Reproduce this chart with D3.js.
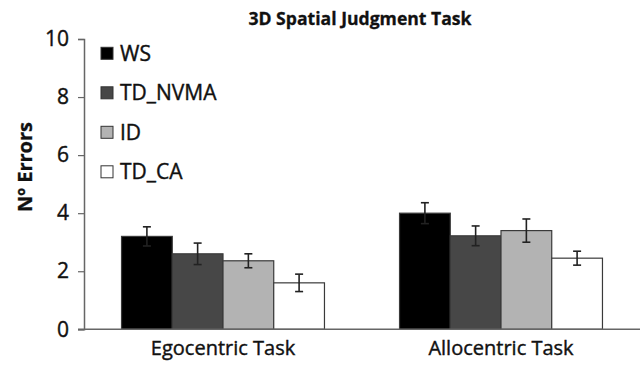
<!DOCTYPE html>
<html>
<head>
<meta charset="utf-8">
<script src="https://cdn.jsdelivr.net/npm/d3@7"></script>
<style>
  html, body { margin: 0; padding: 0; background: #fff; }
  svg { display: block; font-family: "Open Sans", Lato, sans-serif; }
</style>
</head>
<body>
<svg id="chart" width="640" height="366"></svg>
<script>
// Task conditions on the x axis
const tasks = ["Egocentric Task", "Allocentric Task"];
// Participant groups (legend order)
const groups = ["WS", "TD_NVMA", "ID", "TD_CA"];
const groupColors = ["#000000", "#474747", "#b3b3b3", "#ffffff"];
// Mean number of errors per group, one entry per task
const meanWS      = [3.2, 4.0];
const meanTDNVMA  = [2.6, 3.22];
const meanID      = [2.36, 3.4];
const meanTDCA    = [1.6, 2.45];
// Standard errors
const seWS        = [0.33, 0.36];
const seTDNVMA    = [0.37, 0.34];
const seID        = [0.24, 0.4];
const seTDCA      = [0.3, 0.24];
const yTicks = [0, 2, 4, 6, 8, 10];

const means = [meanWS, meanTDNVMA, meanID, meanTDCA];
const ses = [seWS, seTDNVMA, seID, seTDCA];

const fontFamily = "'Open Sans', Lato, sans-serif";
const svg = d3.select("#chart");
const plotLeft = 84, plotRight = 640, plotTop = 39, plotBottom = 329.3;

const x = d3.scaleBand().domain(tasks).range([plotLeft, plotRight])
  .paddingInner(0.27).paddingOuter(0.135);
const xg = d3.scaleBand().domain(groups).range([0, x.bandwidth()]).padding(0);
const y = d3.scaleLinear().domain([0, 10]).range([plotBottom, plotTop]);

// slightly heavier text rendering
function heavy(sel, w) {
  sel.attr("fill", "#111").attr("stroke", "#111").attr("stroke-width", w);
}

// Title
svg.append("text")
  .attr("x", 360).attr("y", 25)
  .attr("text-anchor", "middle")
  .attr("font-weight", "bold")
  .attr("font-size", 17.6)
  .call(heavy, 0.3)
  .text("3D Spatial Judgment Task");

// Bars
const data = [];
tasks.forEach((t, ti) => groups.forEach((g, gi) => {
  data.push({ task: t, group: g, gi, mean: means[gi][ti], se: ses[gi][ti] });
}));

const gBars = svg.append("g");
gBars.selectAll("rect").data(data).join("rect")
  .attr("x", d => x(d.task) + xg(d.group))
  .attr("y", d => y(d.mean))
  .attr("width", xg.bandwidth())
  .attr("height", d => y(0) - y(d.mean))
  .attr("fill", d => groupColors[d.gi])
  .attr("stroke", "#3a3a3a")
  .attr("stroke-width", 1.2);

// Error bars
const gErr = svg.append("g").attr("stroke", "#222").attr("stroke-width", 1.6);
data.forEach(d => {
  const cx = x(d.task) + xg(d.group) + xg.bandwidth() / 2;
  const y1 = y(d.mean + d.se), y0 = y(d.mean - d.se);
  gErr.append("line").attr("x1", cx).attr("x2", cx).attr("y1", y1).attr("y2", y0);
  gErr.append("line").attr("x1", cx - 4).attr("x2", cx + 4).attr("y1", y1).attr("y2", y1);
  gErr.append("line").attr("x1", cx - 4).attr("x2", cx + 4).attr("y1", y0).attr("y2", y0);
});

// Y axis
const yAxis = svg.append("g")
  .attr("transform", `translate(${plotLeft},0)`)
  .call(d3.axisLeft(y).tickValues(yTicks).tickSize(6).tickPadding(9));
yAxis.select(".domain").attr("stroke", "#666").attr("stroke-width", 1.5);
yAxis.selectAll(".tick line").attr("stroke", "#666").attr("stroke-width", 1.2);
yAxis.selectAll(".tick text").attr("font-size", 21)
  .attr("font-family", fontFamily).call(heavy, 0.4);

// X axis
const xAxis = svg.append("g")
  .attr("transform", `translate(0,${plotBottom})`)
  .call(d3.axisBottom(x).tickSize(0).tickPadding(12));
xAxis.select(".domain").attr("stroke", "#666").attr("stroke-width", 1.5)
  .attr("d", `M${plotLeft - 6},0H${plotRight}`);
xAxis.selectAll(".tick text").attr("font-size", 20)
  .attr("font-family", fontFamily).call(heavy, 0.4);

// Y axis title
svg.append("text")
  .attr("transform", "translate(32,167) rotate(-90)")
  .attr("text-anchor", "middle")
  .attr("font-weight", "bold")
  .attr("font-size", 20)
  .call(heavy, 0.3)
  .text("Nº Errors");

// Legend
const legend = svg.append("g");
groups.forEach((g, i) => {
  const cy = 53.3 + i * 39.5;
  legend.append("rect")
    .attr("x", 101).attr("y", cy - 6).attr("width", 12).attr("height", 12)
    .attr("fill", groupColors[i]).attr("stroke", "#333").attr("stroke-width", 1);
  legend.append("text")
    .attr("x", 120).attr("y", cy).attr("dy", "0.35em")
    .attr("font-size", 21)
    .call(heavy, 0.4)
    .text(g);
});
</script>
</body>
</html>
